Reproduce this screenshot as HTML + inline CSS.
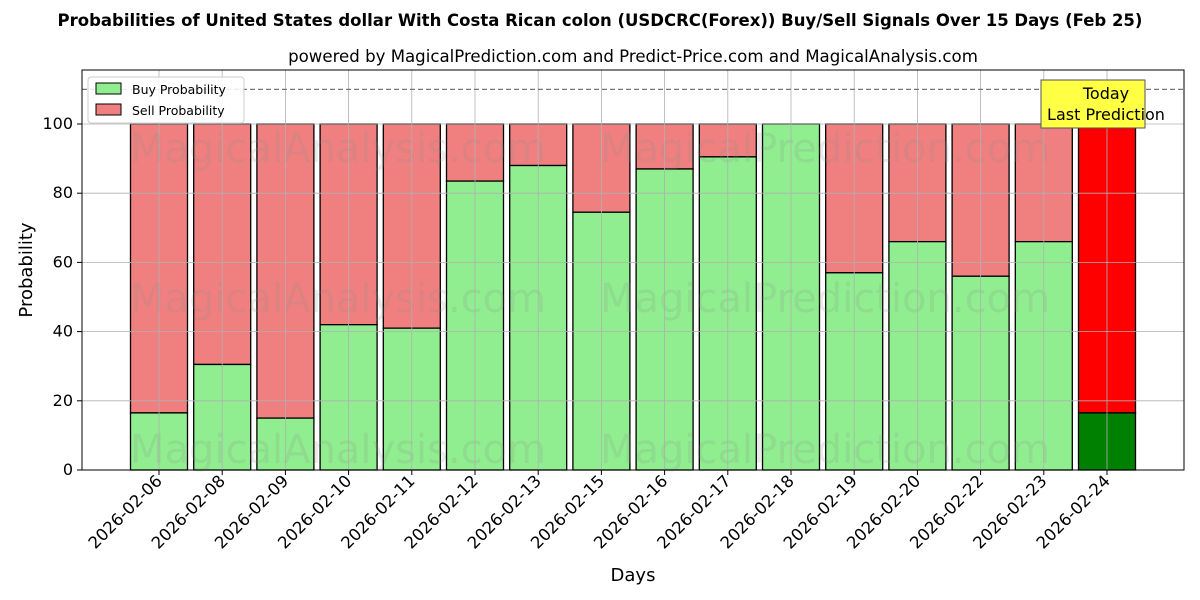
<!DOCTYPE html>
<html><head><style>body{margin:0;background:#fff}svg{display:block}text{font-family:"DejaVu Sans","Liberation Sans",sans-serif}</style></head><body>
<svg width="1200" height="600" viewBox="0 0 1200 600" xmlns="http://www.w3.org/2000/svg">
<text x="600" y="26" text-anchor="middle" font-size="16.5" font-weight="bold">Probabilities of United States dollar With Costa Rican colon (USDCRC(Forex)) Buy/Sell Signals Over 15 Days (Feb 25)</text>
<text x="633" y="62" text-anchor="middle" font-size="16.6">powered by MagicalPrediction.com and Predict-Price.com and MagicalAnalysis.com</text>
<g id="bars" stroke="#000" stroke-width="1.3"></g>
<g fill="#888" fill-opacity="0.18" font-size="40">
<text x="130" y="162">MagicalAnalysis.com</text><text x="600" y="162">MagicalPrediction.com</text>
<text x="130" y="312">MagicalAnalysis.com</text><text x="600" y="312">MagicalPrediction.com</text>
<text x="130" y="463">MagicalAnalysis.com</text><text x="600" y="463">MagicalPrediction.com</text>
</g>
<g id="grid" stroke="#b0b0b0" stroke-width="0.8"></g>
<line x1="82" y1="89.4" x2="1184" y2="89.4" stroke="#777" stroke-dasharray="5,3" stroke-width="1.2"/>
<rect x="82" y="70" width="1102" height="400" fill="none" stroke="#000" stroke-width="1"/>
<g id="ax" font-size="15"></g>
<text x="633" y="581" text-anchor="middle" font-size="18">Days</text>
<text x="32" y="270" text-anchor="middle" font-size="18" transform="rotate(-90 32 270)">Probability</text>
<rect x="1041" y="80" width="104" height="48" fill="#ffff44" stroke="#555"/>
<text x="1106" y="99" text-anchor="middle" font-size="16">Today</text>
<text x="1106" y="120" text-anchor="middle" font-size="16">Last Prediction</text>
<rect x="88" y="77" width="156" height="46" fill="#fff" fill-opacity="0.85" stroke="#ccc" rx="3"/>
<rect x="96" y="83" width="25" height="11" fill="#90ee90" stroke="#000"/>
<text x="132" y="94" font-size="12.5">Buy Probability</text>
<rect x="96" y="104" width="25" height="11" fill="#f08080" stroke="#000"/>
<text x="132" y="115" font-size="12.5">Sell Probability</text>
</svg>
<script>
const ns="http://www.w3.org/2000/svg";
const d=["2026-02-06","2026-02-08","2026-02-09","2026-02-10","2026-02-11","2026-02-12","2026-02-13","2026-02-15","2026-02-16","2026-02-17","2026-02-18","2026-02-19","2026-02-20","2026-02-22","2026-02-23","2026-02-24"];
const v=[16.5,30.5,15,42,41,83.5,88,74.5,87,90.5,100,57,66,56,66,16.5];
const Y=x=>470-x*3.46;
const b=document.getElementById("bars"),g=document.getElementById("grid"),a=document.getElementById("ax");
function el(p,t,o,txt){const e=document.createElementNS(ns,t);for(const k in o)e.setAttribute(k,o[k]);if(txt!=null)e.textContent=txt;p.appendChild(e);return e;}
d.forEach((s,i)=>{const c=159+i*63.2,l=c-28.5;const last=i==15;
el(b,"rect",{x:l,y:Y(100),width:57,height:Y(v[i])-Y(100),fill:last?"#ff0000":"#f08080"});
el(b,"rect",{x:l,y:Y(v[i]),width:57,height:470-Y(v[i]),fill:last?"#008000":"#90ee90"});
el(g,"line",{x1:c,y1:70,x2:c,y2:470});
el(a,"line",{x1:c,y1:470,x2:c,y2:475,stroke:"#000"});
el(a,"text",{x:c+4,y:482,"text-anchor":"end","font-size":"16.5",transform:`rotate(-45 ${c+4} 482)`},s);});
for(let t=0;t<=100;t+=20){const y=Y(t);el(g,"line",{x1:82,y1:y,x2:1184,y2:y});
el(a,"line",{x1:77,y1:y,x2:82,y2:y,stroke:"#000"});el(a,"text",{x:73,y:y+5,"text-anchor":"end","font-size":"16"},t);}
</script>
</body></html>
